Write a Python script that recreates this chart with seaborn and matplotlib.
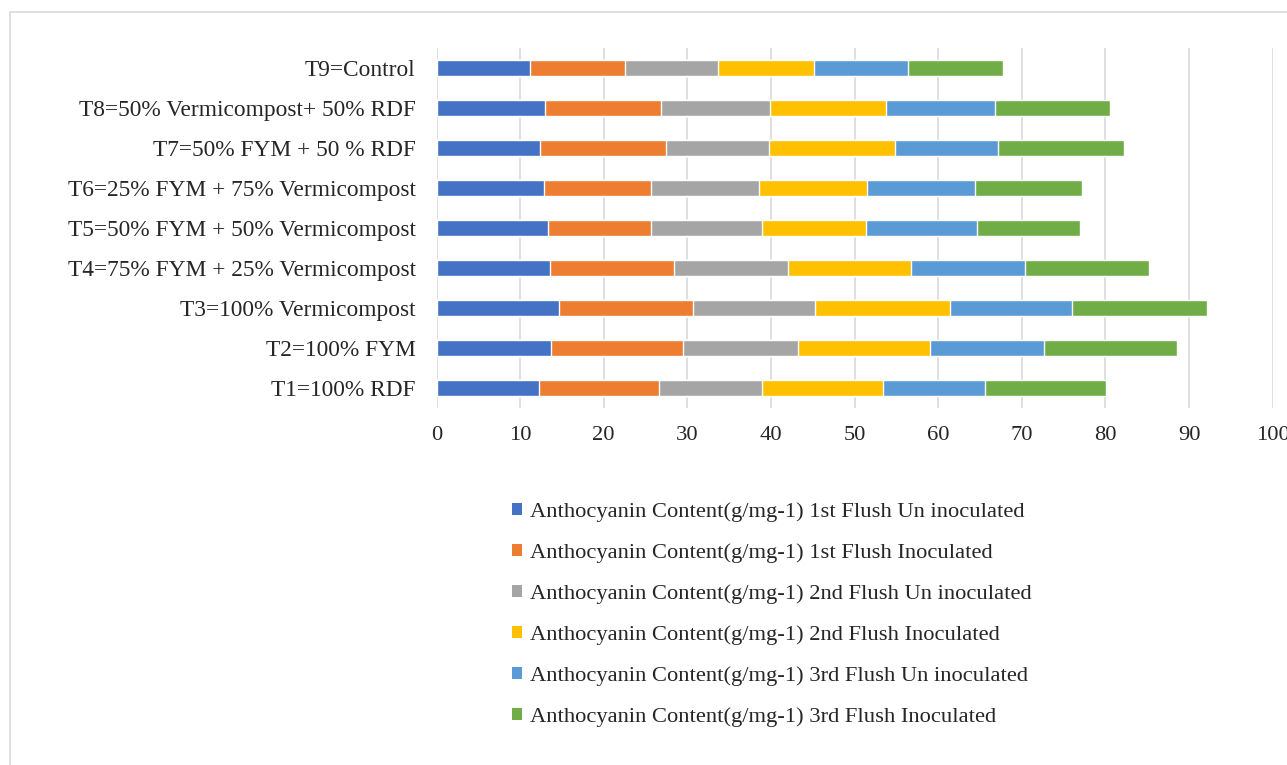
import matplotlib
matplotlib.use("Agg")
import matplotlib.pyplot as plt
from matplotlib.patches import Patch, Rectangle
import seaborn as sns
import pandas as pd
import numpy as np

# treatments, in data order (T1 first)
treatments = [
    "T1=100% RDF",
    "T2=100% FYM",
    "T3=100% Vermicompost",
    "T4=75% FYM + 25% Vermicompost",
    "T5=50% FYM + 50% Vermicompost",
    "T6=25% FYM + 75% Vermicompost",
    "T7=50% FYM + 50 % RDF",
    "T8=50% Vermicompost+ 50% RDF",
    "T9=Control",
]

flush1_uninoc = [12.2, 13.7, 14.6, 13.6, 13.3, 12.9, 12.4, 13.0, 11.2]
flush1_inoc = [14.4, 15.8, 16.1, 14.8, 12.4, 12.8, 15.0, 13.9, 11.3]
flush2_uninoc = [12.3, 13.7, 14.6, 13.6, 13.2, 12.9, 12.4, 13.0, 11.2]
flush2_inoc = [14.5, 15.8, 16.1, 14.8, 12.5, 12.9, 15.0, 13.9, 11.4]
flush3_uninoc = [12.2, 13.7, 14.6, 13.6, 13.2, 12.9, 12.4, 13.0, 11.3]
flush3_inoc = [14.5, 15.9, 16.2, 14.8, 12.4, 12.8, 15.0, 13.8, 11.3]

series_names = [
    "Anthocyanin Content(g/mg-1) 1st Flush Un inoculated",
    "Anthocyanin Content(g/mg-1) 1st Flush Inoculated",
    "Anthocyanin Content(g/mg-1) 2nd Flush Un inoculated",
    "Anthocyanin Content(g/mg-1) 2nd Flush Inoculated",
    "Anthocyanin Content(g/mg-1) 3rd Flush Un inoculated",
    "Anthocyanin Content(g/mg-1) 3rd Flush Inoculated",
]
colors = ["#4472C4", "#ED7D31", "#A5A5A5", "#FFC000", "#5B9BD5", "#70AD47"]

x_ticks = [0, 10, 20, 30, 40, 50, 60, 70, 80, 90, 100]

df = pd.DataFrame(
    {
        "Treatment": treatments,
        series_names[0]: flush1_uninoc,
        series_names[1]: flush1_inoc,
        series_names[2]: flush2_uninoc,
        series_names[3]: flush2_inoc,
        series_names[4]: flush3_uninoc,
        series_names[5]: flush3_inoc,
    }
)
# running totals so the stacked bars can be drawn back to front
cum = df[series_names].cumsum(axis=1)
cum["Treatment"] = df["Treatment"]

sns.set_style("white")
plt.rcParams["font.family"] = ["Liberation Serif", "DejaVu Serif"]
FS_Y = 16.8
FS = 16.2

W, H, DPI = 1287, 765, 100
fig = plt.figure(figsize=(W / DPI, H / DPI), dpi=DPI)

# light outer frame like the exported Excel chart
fig.patches.append(Rectangle((10 / W, -0.1), 1.2, 1 - 12 / H + 0.1, transform=fig.transFigure,
                             fill=False, edgecolor="#d9d9d9", lw=1.2))

ax_left, ax_right, ax_top, ax_bottom = 436.5, 1272.7, 48, 408
ax = fig.add_axes([ax_left / W, 1 - ax_bottom / H, (ax_right - ax_left) / W, (ax_bottom - ax_top) / H])

order = treatments[::-1]  # T9 at the top
for name, col in reversed(list(zip(series_names, colors))):
    sns.barplot(data=cum, x=name, y="Treatment", order=order, orient="h",
                color=col, width=0.4, saturation=1, ax=ax, zorder=3)

ax.set_xlim(0, 100)
ax.set_ylim(8.5, -0.5)
ax.set_xticks(x_ticks)
ax.set_xticklabels([str(t) for t in x_ticks], fontsize=FS)
ax.tick_params(axis="y", labelsize=FS_Y, length=0, pad=15)
ax.tick_params(axis="x", length=0, pad=13)
ax.set_xlabel("")
ax.set_ylabel("")
ax.grid(axis="x", color="#d9d9d9", lw=1.2, zorder=0)
ax.grid(axis="y", visible=False)
for s in ax.spines.values():
    s.set_visible(False)

handles = [Patch(facecolor=c, edgecolor="none") for c in colors]
fig.legend(handles, series_names, loc="upper left",
           bbox_to_anchor=(512 / W, 1 - 502 / H), frameon=False, fontsize=FS,
           handlelength=0.45, handleheight=0.45, handletextpad=0.33,
           labelspacing=0.95, borderpad=0, borderaxespad=0)

fig.savefig("out.png", dpi=DPI)
